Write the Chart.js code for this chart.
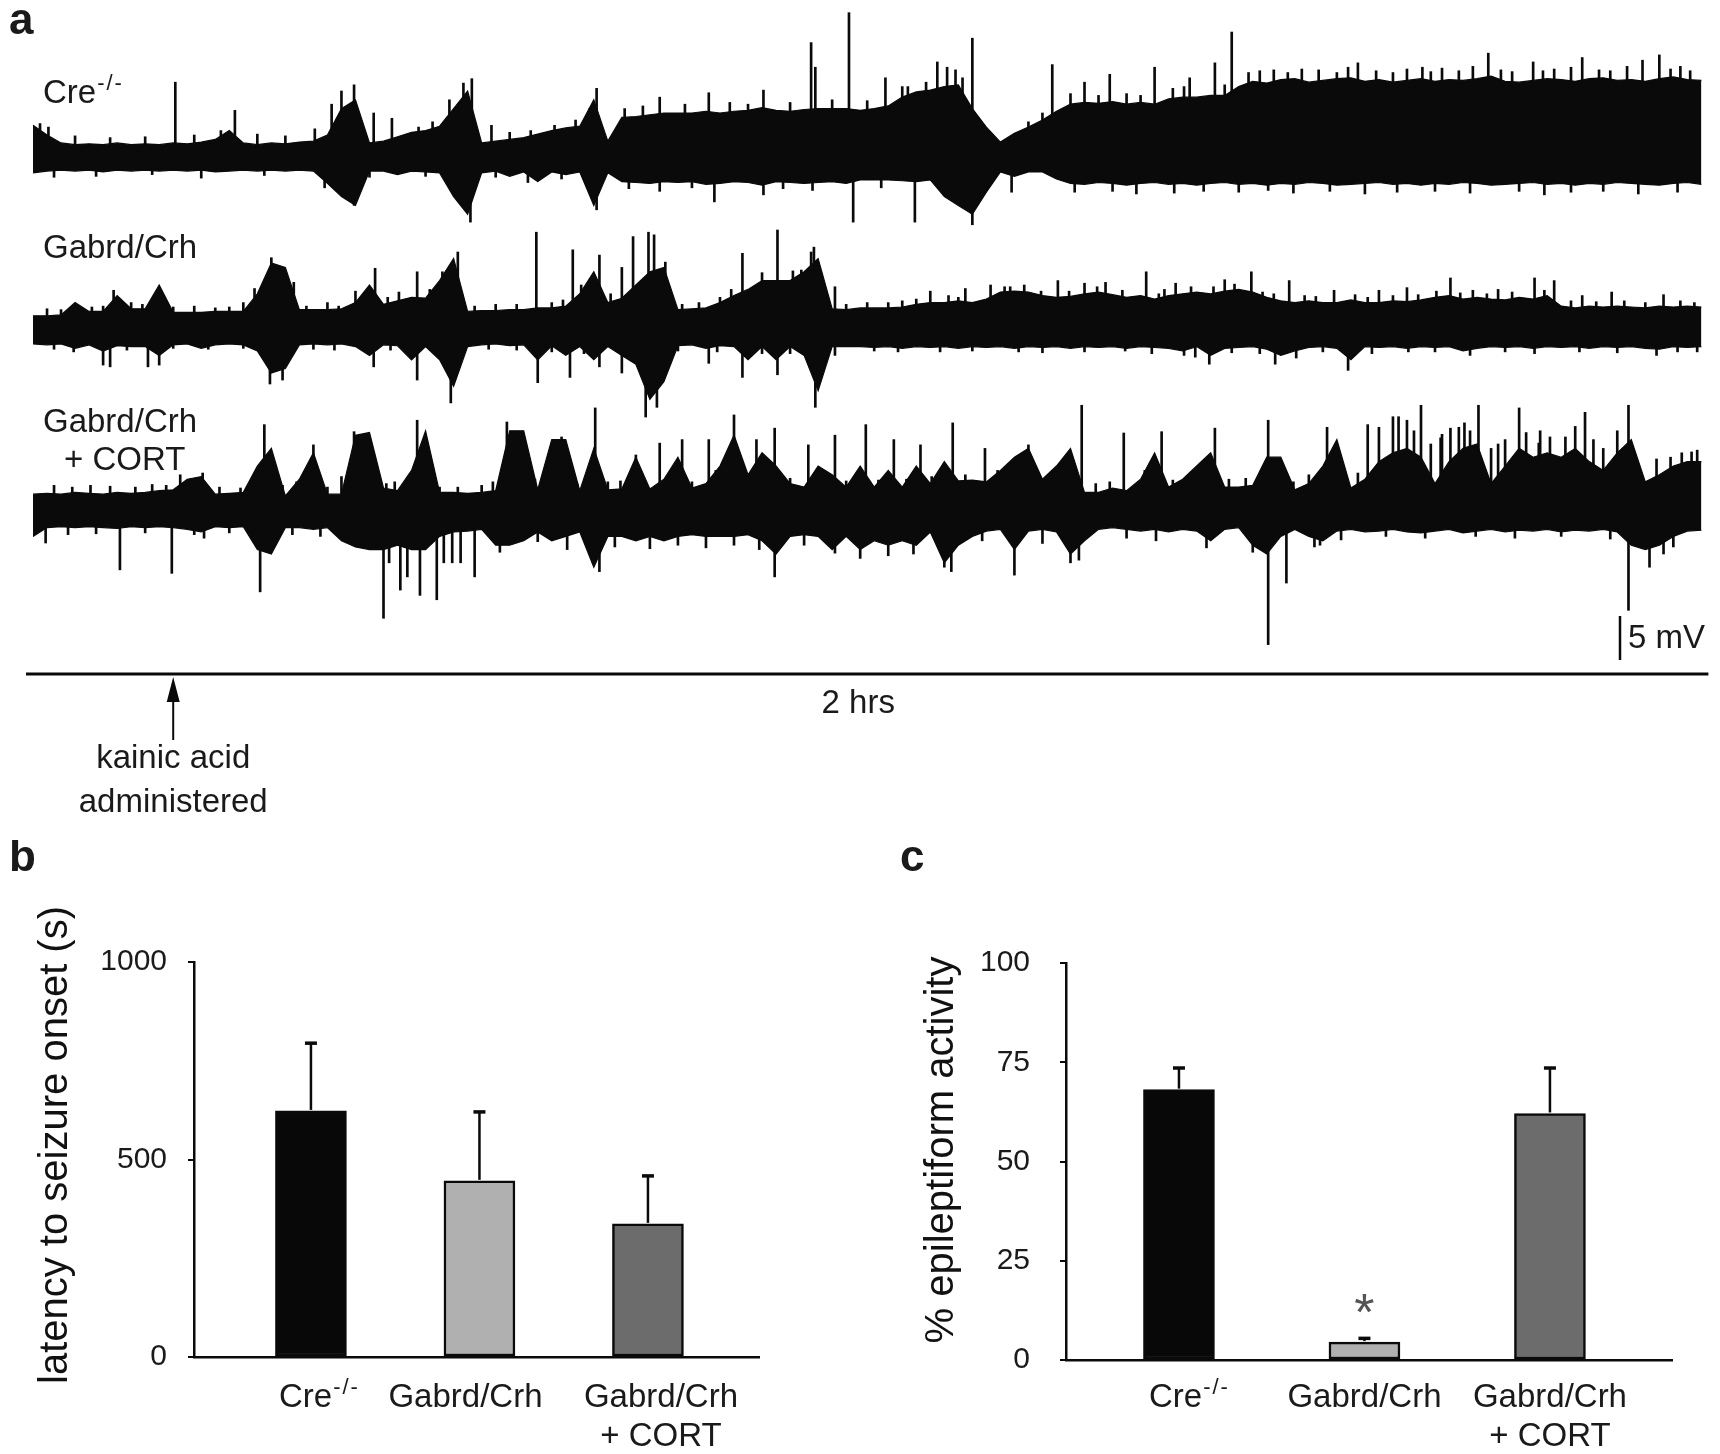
<!DOCTYPE html>
<html>
<head>
<meta charset="utf-8">
<script src="https://cdn.jsdelivr.net/npm/chart.js@4.4.0/dist/chart.umd.min.js"></script>
<style>
html,body{margin:0;padding:0;background:#fff;}
#wrap{position:relative;width:1720px;height:1454px;overflow:hidden;background:#fff;}
canvas{position:absolute;display:block;}
</style>
</head>
<body>
<div id="wrap">
<canvas id="ca" width="1720" height="840" style="left:0;top:0;width:1720px;height:840px"></canvas>
<canvas id="cb" width="860" height="614" style="left:0;top:840px;width:860px;height:614px"></canvas>
<canvas id="cc" width="860" height="614" style="left:860px;top:840px;width:860px;height:614px"></canvas>
</div>
<script>
// ================= DATA =================
// Panel a: EEG traces, envelope (max / min) per 1-minute bin, in mV relative to each trace baseline
const traceLabels = ['Cre', 'Gabrd/Crh', 'Gabrd/Crh'];
const traceLabelSup = ['-/-', '', ''];
const traceLabelLine2 = ['', '', '+ CORT'];
const recordingMinutes = 120;          // length of time bar ("2 hrs")
const kainicAcidMinute = 10.5;         // arrow: kainic acid administered
const scaleBarMV = 5;                  // vertical scale bar
const binMinutes = Array.from({length: 120}, (_, i) => i + 0.5); // sample times (bin centres)

const creUpper = [3.6,2.5,1.6,1.4,1.5,1.4,1.6,1.4,1.5,1.4,
 1.6,1.5,1.7,2.0,3.0,1.6,1.4,1.6,1.5,1.7,
 1.8,2.5,5.5,6.5,1.6,1.8,2.3,2.8,3.0,3.5,
 5.5,7.5,1.6,1.8,2.0,2.2,2.6,3.0,3.3,3.5,
 6.5,1.8,4.5,4.6,4.8,5.0,5.0,5.0,5.2,5.0,
 5.2,5.3,5.6,5.3,5.2,5.4,5.5,5.5,5.5,5.3,
 5.5,5.8,6.8,7.4,7.6,8.0,8.2,5.5,3.4,1.7,
 2.7,3.4,4.2,5.2,6.0,6.2,6.1,6.3,6.0,6.2,
 6.0,6.6,6.8,6.8,7.0,7.0,8.0,8.6,8.4,8.8,
 8.9,8.5,8.7,8.9,9.0,8.6,8.8,8.5,8.7,8.9,
 8.6,8.8,8.7,8.9,9.2,8.6,8.5,8.7,8.9,8.8,
 8.6,8.9,9.0,8.7,8.8,8.6,8.9,9.1,8.8,8.7];
const creLower = [-1.8,-1.6,-1.5,-1.6,-1.5,-1.7,-1.5,-1.6,-1.5,-1.6,
 -1.5,-1.6,-1.5,-1.7,-1.6,-1.5,-1.6,-1.5,-1.6,-1.5,
 -1.6,-3.0,-4.5,-5.5,-1.6,-1.6,-2.0,-1.6,-1.7,-1.8,
 -4.5,-6.5,-1.8,-1.6,-2.2,-1.7,-2.8,-1.7,-2.0,-1.7,
 -5.5,-1.8,-2.8,-2.9,-3.0,-2.8,-2.9,-2.8,-3.1,-3.0,
 -2.8,-2.9,-3.2,-2.8,-2.9,-3.0,-2.9,-2.8,-3.0,-2.6,
 -2.6,-2.6,-2.7,-2.8,-2.6,-4.5,-5.5,-6.5,-4.0,-1.7,
 -2.2,-1.7,-1.7,-2.5,-3.0,-3.1,-2.9,-3.0,-3.2,-3.0,
 -2.9,-3.1,-3.0,-3.2,-3.0,-2.9,-3.1,-3.0,-3.2,-3.0,
 -3.1,-2.9,-3.0,-3.2,-3.1,-3.0,-2.9,-3.1,-3.0,-3.2,
 -3.0,-3.1,-2.9,-3.0,-3.2,-3.1,-3.0,-2.9,-3.1,-3.0,
 -3.2,-3.0,-3.1,-2.9,-3.0,-3.1,-3.2,-3.0,-2.9,-3.1];
const creSpikeMin = [10.65,14.9,23.4,24.8,26.1,31.8,33.2,40.7,45.2,48.7,52.6,56.0,56.3,58.7,61.3,62.5,65.0,65.7,66.3,67.5,73.2,75.5,77.3,80.5,83.0,84.8,86.0,88.0,91.0,95.0,97.5,99.6,101.0,104.3,106.0,107.5,109.0,111.0,113.0,115.3,116.5,118.0];
const creSpikeMV  = [8.5,5.3,8.2,5.0,4.4,8.9,3.6,7.8,6.8,7.3,7.6,13.0,10.2,16.4,9.0,8.0,10.8,10.2,9.9,13.5,10.5,8.5,9.4,10.2,9.0,10.7,14.2,9.8,10.0,10.7,9.6,10.2,10.1,11.8,9.7,10.8,10.0,11.3,9.8,11.0,11.6,10.3];
const creFineMin = [1.0,1.6,3.5,6.0,8.5,12.0,13.9,16.5,18.5,20.6,21.8,22.5,28.0,29.0,30.2,31.2,34.5,36.0,37.7,39.2,40.2,42.7,44.0,47.0,50.2,51.5,54.5,57.5,60.0,62.9,64.2,66.8,71.5,72.5,74.5,76.5,78.5,79.5,81.8,82.6,85.5,87.2,89.0,90.0,92.2,93.5,94.3,96.3,98.5,100.2,102.2,103.2,105.2,108.2,110.2,112.2,114.2,117.3,118.7];
const creFineMV  = [3.8,3.4,2.4,2.2,2.3,2.5,3.0,2.6,2.4,3.2,6.0,7.5,3.4,4.0,6.5,8.4,2.8,3.0,3.6,4.2,5.5,5.5,5.8,6.0,6.2,6.0,6.2,6.5,6.4,8.0,8.5,9.0,4.0,5.0,7.2,7.0,7.2,7.0,7.8,8.0,8.2,9.6,9.9,9.6,9.9,9.6,10.2,9.8,10.0,9.7,9.8,10.3,9.9,9.8,10.2,9.9,10.3,10.0,9.8];
const creDipMin = [23.4,31.7,40.7,49.1,59.0,63.4,67.5,70.3,81.9,90.4,100.5,110.2];
const creDipMV  = [-5.5,-7.4,-6.0,-5.1,-7.4,-7.4,-7.7,-4.0,-4.1,-4.1,-3.9,-4.0];
const creFineDipMin = [2,5,9,12.5,17,21.3,24.5,28.5,33.5,35.8,38.2,43,45.2,47.5,52.6,54.0,56.1,61,74.8,77.5,79.2,84,86.5,88.6,93,95.5,97.8,103,106.5,108.3,112.5,115,117.8];
const creFineDipMV  = [-2.3,-2.2,-2.0,-2.4,-2.1,-3.5,-2.3,-2.2,-2.3,-2.9,-2.5,-3.6,-3.9,-3.5,-4.3,-3.6,-3.8,-3.5,-4.0,-3.9,-4.2,-3.9,-4.0,-3.8,-3.9,-4.2,-4.0,-4.1,-3.9,-4.3,-3.9,-4.2,-4.0];

const gabUpper = [1.5,1.5,1.6,3.0,2.0,2.0,3.8,2.3,2.3,5.0,
 1.9,1.9,1.9,2.0,2.0,2.0,4.0,7.5,7.0,2.2,
 2.2,2.2,2.3,3.0,5.0,2.8,3.2,3.6,3.5,5.5,
 8.0,2.0,2.1,2.1,2.2,2.2,2.4,2.4,2.6,4.0,
 6.5,3.0,3.5,5.0,6.5,7.0,2.2,2.3,2.4,3.0,
 3.8,4.5,5.5,5.5,5.5,6.5,8.0,2.3,2.2,2.4,
 2.4,2.4,2.5,2.8,3.0,3.0,3.2,3.0,3.4,4.2,
 4.3,4.2,3.8,3.6,3.7,4.0,4.2,3.9,3.6,3.8,
 3.4,3.8,4.0,4.2,4.0,4.3,4.5,4.2,3.6,3.2,
 3.0,3.2,3.0,3.0,3.3,3.0,3.0,3.2,3.1,3.3,
 3.6,3.8,3.4,3.6,3.4,3.3,3.6,3.4,3.8,2.6,
 2.4,2.6,2.5,2.6,2.5,2.4,2.6,2.5,2.6,2.5];
const gabLower = [-1.7,-1.8,-1.7,-2.2,-1.8,-2.5,-1.9,-2.0,-2.0,-3.0,
 -1.8,-1.7,-2.2,-1.8,-1.7,-1.8,-2.5,-5.0,-4.5,-1.8,
 -1.7,-1.8,-1.7,-2.0,-3.0,-1.8,-1.9,-3.5,-2.0,-3.5,
 -6.5,-2.0,-1.8,-1.7,-1.9,-1.8,-3.5,-1.9,-3.0,-2.0,
 -3.5,-2.0,-3.0,-4.0,-8.0,-6.0,-1.9,-1.8,-2.2,-1.9,
 -2.0,-3.5,-2.0,-3.5,-2.0,-3.0,-7.0,-2.0,-2.0,-2.0,
 -2.1,-2.0,-2.2,-2.0,-2.1,-2.0,-2.2,-2.0,-2.1,-2.0,
 -2.2,-2.0,-2.1,-2.0,-2.2,-2.0,-2.1,-2.0,-2.2,-2.0,
 -2.1,-2.2,-2.5,-2.0,-3.0,-2.2,-2.1,-2.0,-2.3,-3.0,
 -2.5,-2.1,-2.0,-2.2,-3.5,-2.0,-2.1,-2.0,-2.2,-2.0,
 -2.1,-2.0,-2.5,-2.2,-2.0,-2.1,-2.0,-2.2,-2.0,-2.1,
 -2.0,-2.2,-2.0,-2.1,-2.0,-2.2,-2.3,-2.0,-2.1,-2.0];
const gabSpikeMin = [6.25,17.5,19.1,24.9,27.9,30.8,36.4,39.0,40.9,42.5,43.3,44.4,44.8,51.1,53.6,55.3,56.0,56.2,57.7,64.5,67.0,68.8,70.2,73.6,75.5,77.0,79.9,82.0,85.5,87.4,90.1,93.3,96.5,98.5,101.6,103.2,105.0,107.6,109.0,111.0,113.1,116.8];
const gabSpikeMV  = [4.4,8.1,5.3,6.9,6.5,8.75,11.0,9.0,8.4,7.0,10.5,11.0,10.7,8.6,11.25,6.7,8.75,9.3,4.8,4.3,4.6,5.0,4.8,5.5,5.2,5.3,6.5,5.2,5.6,6.5,5.5,4.4,4.4,4.7,5.8,4.4,4.5,5.8,5.5,3.8,4.2,3.9];
const gabFineMin = [1.5,2.5,4.7,5.5,7.5,8.3,10.5,12,13.5,14.5,15.5,16.3,20,21.5,22.3,23.5,25.8,26.6,28.8,29.7,32,33.5,35,37.5,38.3,39.6,41.7,45.6,46.8,48,49.5,50.3,52.5,54.7,58.5,60.0,61.5,62.5,63.5,65.8,66.5,69.8,71.2,72.4,74.4,76.4,78.2,80.8,81.2,83.1,84.7,86.2,88.2,89.0,91.2,92.0,94.8,95.7,97.5,99.3,100.6,102.3,104.2,106.0,108.3,110.2,112.0,114.0,115.5,118.0,119.0];
const gabFineMV  = [2.3,2.2,2.5,2.6,3.0,2.8,2.5,2.6,2.4,2.5,3.0,4.6,2.6,3.0,2.6,4.3,3.6,4.2,4.5,6.5,2.6,2.8,2.8,3.0,3.3,5.0,4.0,7.6,2.8,3.0,3.6,4.5,6.4,6.6,2.8,3.0,3.0,3.2,3.4,3.8,3.6,4.8,5.0,4.3,4.3,4.8,4.4,4.0,4.5,4.8,4.8,5.1,4.2,4.0,3.8,3.7,3.9,3.6,3.8,3.9,4.3,4.1,4.0,4.2,4.4,3.2,3.1,3.2,3.0,3.2,3.0];
const gabDipMin = [5.5,6.0,8.7,9.5,17.4,18.3,24.8,27.9,30.3,36.5,38.8,40.9,42.5,44.2,45.0,48.7,51.1,53.6,56.3,84.4,89.1,90.6,94.3,103.0,116.3];
const gabDipMV  = [-4.1,-4.3,-4.3,-4.1,-6.25,-5.8,-4.3,-5.8,-8.4,-6.1,-5.5,-4.3,-5.0,-10.0,-8.9,-3.9,-5.5,-5.2,-8.9,-4.0,-4.0,-3.3,-4.7,-3.0,-3.0];
const gabFineDipMin = [2,3.4,7.2,10.5,13,15.5,20.5,22,26,33,35,37.5,39.8,46.5,49.3,52.5,54.5,57.7,60.5,62.2,65.2,67.5,70.8,72.5,75.5,78.4,80.3,82.6,83.4,86,88,92.5,96,98.6,100.5,105.5,107.6,110.8,113.5,117.8,119.2];
const gabFineDipMV  = [-2.3,-2.6,-2.4,-2.2,-2.3,-2.2,-2.3,-2.4,-2.4,-2.3,-2.4,-2.6,-2.8,-2.5,-2.6,-2.8,-2.8,-3.0,-2.5,-2.6,-2.6,-2.5,-2.6,-2.7,-2.6,-2.5,-2.8,-3.0,-3.2,-2.7,-2.8,-2.6,-2.8,-2.6,-2.6,-2.6,-2.8,-2.6,-2.7,-2.6,-2.6];

const cortUpper = [1.8,1.9,1.8,2.0,1.9,1.8,2.0,1.9,2.0,2.2,
 2.3,3.5,3.8,1.8,1.9,2.0,5.0,7.0,1.6,3.5,
 6.5,1.8,1.8,8.5,8.8,2.5,2.2,4.5,9.0,2.0,
 2.0,1.9,2.0,2.2,9.0,9.0,2.3,8.0,8.0,2.2,
 7.0,2.3,2.4,6.0,2.4,3.5,6.0,2.5,3.0,5.0,
 8.5,4.0,6.5,5.0,3.0,2.6,5.0,4.0,2.6,5.0,
 2.6,4.5,2.6,5.0,3.0,5.5,3.3,3.4,3.2,4.5,
 6.0,7.0,3.5,5.0,7.0,2.0,2.0,2.5,2.2,3.5,
 6.5,2.6,3.5,5.0,6.5,2.6,2.6,2.8,6.0,6.0,
 2.3,3.0,5.0,8.0,2.5,3.5,5.5,6.5,7.0,6.0,
 3.0,5.5,7.0,7.5,3.0,5.0,7.0,6.0,6.5,6.0,
 7.0,5.5,4.5,6.5,8.0,3.2,4.0,5.0,5.5,5.5];
const cortLower = [-3.0,-2.0,-1.9,-2.0,-1.9,-2.0,-2.1,-1.9,-2.0,-1.9,
 -2.0,-2.2,-2.5,-1.9,-2.0,-1.9,-4.5,-5.0,-2.0,-2.0,
 -2.2,-2.0,-3.5,-4.2,-4.5,-4.5,-4.0,-4.5,-4.5,-3.0,
 -2.5,-2.4,-2.2,-4.0,-4.0,-3.5,-2.5,-3.5,-3.0,-2.5,
 -6.5,-3.0,-3.0,-3.5,-3.0,-3.5,-3.0,-2.8,-3.0,-3.0,
 -3.0,-2.8,-3.5,-5.0,-3.0,-2.8,-3.0,-4.5,-3.0,-4.5,
 -3.5,-4.0,-3.5,-4.0,-2.5,-6.0,-4.0,-3.0,-2.4,-2.2,
 -4.5,-2.4,-2.2,-2.5,-5.0,-3.5,-2.2,-2.0,-2.2,-2.4,
 -2.2,-2.5,-2.2,-2.4,-3.5,-2.2,-2.0,-4.0,-5.0,-3.0,
 -2.2,-3.0,-3.5,-2.4,-2.2,-2.5,-2.4,-2.2,-2.5,-2.6,
 -2.4,-2.2,-2.6,-2.4,-2.2,-2.5,-2.3,-2.4,-2.2,-2.5,
 -2.3,-2.4,-2.2,-2.5,-4.0,-4.5,-4.0,-3.0,-2.4,-2.3];
const cortSpikeMin = [12.6,17.0,20.5,23.4,27.9,34.3,38.2,40.6,43.5,45.2,46.8,48.7,50.5,52.1,53.4,55.8,57.7,59.9,61.9,63.8,66.1,68.4,71.5,75.3,78.3,81.0,84.8,88.6,92.8,95.7,96.5,97.5,97.9,98.5,99.5,100.9,101.6,102.2,102.6,103.6,105.5,106.5,107.9,108.7,109.8,111.2,114.3,118.1,118.8];
const cortSpikeMV  = [4.2,9.7,7.4,8.9,10.2,10.0,8.3,11.6,6.25,7.6,8.0,8.0,10.8,8.0,9.3,7.4,8.5,9.7,8.0,7.4,9.9,7.0,7.4,11.9,8.75,8.9,9.3,10.2,9.4,9.7,9.4,10.6,10.6,10.2,11.9,8.2,9.3,9.4,9.9,11.9,8.0,11.6,7.6,8.3,8.3,11.1,11.9,6.5,6.6];
const cortFineMin = [2.0,3.3,4.6,6.0,7.8,9.0,10.0,11.0,13.8,15.3,18.3,19.3,21.5,22.5,25.0,25.7,26.3,29.5,30.8,32.5,33.3,36.3,39.3,41.5,42.4,44.0,47.5,49.2,54.5,56.6,58.5,60.8,62.8,64.6,67.0,69.3,72.2,73.2,76.3,77.3,79.8,81.8,85.8,87.0,90.4,91.5,94.0,95.0,99.0,100.2,101.0,103.0,104.5,105.0,107.0,108.0,110.5,111.8,112.5,113.5,115.0,116.3,117.3,119.2];
const cortFineMV  = [2.8,2.6,2.8,2.7,2.6,2.9,2.8,4.0,2.6,2.5,2.8,3.2,2.6,3.8,3.6,3.0,3.2,2.6,2.6,2.8,3.2,3.5,3.0,3.2,3.3,3.5,3.2,4.5,3.6,3.5,3.3,3.4,3.5,3.8,4.0,4.5,4.3,4.5,3.0,3.2,4.5,3.4,3.5,3.6,3.2,4.0,3.4,4.2,9.0,7.5,8.6,9.0,7.0,7.5,8.8,9.0,9.5,8.0,7.0,9.0,5.0,5.8,6.0,6.8];
const cortDipMin = [1.4,6.7,10.4,12.7,16.7,25.5,25.9,26.7,27.2,28.1,29.3,29.8,30.4,31.0,32.0,40.9,53.4,57.7,66.0,70.5,75.1,88.6,89.9,91.9,114.3,115.8];
const cortDipMV  = [-3.75,-6.8,-7.2,-3.2,-9.3,-12.3,-6.0,-9.1,-7.6,-9.7,-10.2,-6.0,-6.0,-6.0,-7.6,-7.0,-7.6,-4.9,-7.0,-7.4,-5.7,-15.3,-8.3,-4.2,-11.4,-6.5];
const cortFineDipMin = [3,5,8.5,12,14.5,19,21,33.8,36.5,38.6,42,44.5,46.5,48.5,50.5,52.3,55.5,59.5,61.5,63.3,65.5,68.2,72.5,74.5,78.5,80.6,84.2,87.5,92.3,93.8,97,99.8,103.4,106.2,109.5,113,116.8,117.5];
const cortFineDipMV  = [-2.8,-2.7,-2.6,-2.8,-2.6,-2.8,-3.0,-4.8,-3.6,-4.5,-4.2,-4.4,-4.0,-4.3,-4.0,-4.5,-4.0,-5.5,-5.2,-5.0,-6.5,-3.5,-3.8,-6.0,-3.2,-3.5,-4.3,-4.8,-4.0,-3.4,-3.0,-3.2,-3.0,-3.2,-3.0,-3.3,-5.0,-4.2];

// Panels b and c: group means with SEM
const groupNames = ['Cre', 'Gabrd/Crh', 'Gabrd/Crh'];
const groupSup = ['-/-', '', ''];
const groupLine2 = ['', '', '+ CORT'];
const latencyMean = [623, 446, 337];
const latencyErr = [174, 177, 124];
const latencyTicks = [0, 500, 1000];
const epiMean = [68.1, 4.5, 62.1];
const epiErr = [5.7, 1.2, 11.7];
const epiTicks = [0, 25, 50, 75, 100];
const epiSignificance = ['', '*', ''];

// ================= STYLE / LAYOUT =================
const FONT = '"Liberation Sans", Arial, sans-serif';
const INK = '#0a0a0a';
const barColors = ['#080808', '#b0b0b0', '#6c6c6c'];
const PX_PER_MV = 8.8;          // 5 mV = 44 px
const T0_PX = 26, PX_PER_MIN = 14.02;
const traceCenterPx = [157, 329, 510];

Chart.defaults.font.family = FONT;

// ================= PANEL A =================
const traces = [
  {up: creUpper, lo: creLower, sT: creSpikeMin.concat(creFineMin), sV: creSpikeMV.concat(creFineMV),
   dT: creDipMin.concat(creFineDipMin), dV: creDipMV.concat(creFineDipMV)},
  {up: gabUpper, lo: gabLower, sT: gabSpikeMin.concat(gabFineMin), sV: gabSpikeMV.concat(gabFineMV),
   dT: gabDipMin.concat(gabFineDipMin), dV: gabDipMV.concat(gabFineDipMV)},
  {up: cortUpper, lo: cortLower, sT: cortSpikeMin.concat(cortFineMin), sV: cortSpikeMV.concat(cortFineMV),
   dT: cortDipMin.concat(cortFineDipMin), dV: cortDipMV.concat(cortFineDipMV)}
];
const dsA = [];
const spikeSets = [];
traces.forEach((tr, k) => {
  const off = -traceCenterPx[k] / PX_PER_MV;
  dsA.push({type: 'line', data: binMinutes.map((t, i) => ({x: t, y: off + tr.up[i]})),
    borderColor: INK, borderWidth: 1.2, pointRadius: 0, tension: 0, fill: false});
  dsA.push({type: 'line', data: binMinutes.map((t, i) => ({x: t, y: off + tr.lo[i]})),
    borderColor: INK, borderWidth: 1.2, pointRadius: 0, tension: 0, fill: '-1', backgroundColor: INK});
  spikeSets.push({type: 'bar', data: tr.sT.map((t, j) => ({x: t, y: [off, off + tr.sV[j]]})),
    backgroundColor: INK, borderWidth: 0, barThickness: 2, grouped: false});
  spikeSets.push({type: 'bar', data: tr.dT.map((t, j) => ({x: t, y: [off + tr.dV[j], off]})),
    backgroundColor: INK, borderWidth: 0, barThickness: 2, grouped: false});
});

function drawSupLabel(ctx, base, sup, x, y, size, align) {
  ctx.font = size + 'px ' + FONT;
  const w = ctx.measureText(base).width;
  const supSize = Math.round(size * 0.68);
  ctx.font = supSize + 'px ' + FONT;
  const ws = sup ? ctx.measureText(sup).width + 2 * sup.length : 0;
  const total = w + ws;
  let x0 = align === 'center' ? x - total / 2 : x;
  ctx.textAlign = 'left';
  ctx.font = size + 'px ' + FONT;
  ctx.fillText(base, x0, y);
  if (sup) {
    ctx.font = supSize + 'px ' + FONT;
    if ('letterSpacing' in ctx) ctx.letterSpacing = '2px';
    ctx.fillText(sup, x0 + w + 1, y - size * 0.4);
    if ('letterSpacing' in ctx) ctx.letterSpacing = '0px';
  }
}

const annotA = {
  id: 'annotA',
  afterDraw(chart) {
    const {ctx, scales: {x, y}} = chart;
    ctx.save();
    ctx.fillStyle = '#1a1a1a';
    ctx.textBaseline = 'alphabetic';
    ctx.font = 'bold 44px ' + FONT;
    ctx.textAlign = 'left';
    ctx.fillText('a', 9, 34);
    const labelBase = [103, 258, 432];
    traceLabels.forEach((lab, k) => {
      drawSupLabel(ctx, lab, traceLabelSup[k], 43, labelBase[k], 33, 'left');
      if (traceLabelLine2[k]) {
        ctx.font = '33px ' + FONT;
        ctx.fillText(traceLabelLine2[k], 64, labelBase[k] + 38);
      }
    });
    // scale bar (5 mV)
    const barBottom = 660;
    const vBottom = y.getValueForPixel(barBottom);
    const barTop = y.getPixelForValue(vBottom + scaleBarMV);
    ctx.strokeStyle = INK;
    ctx.lineWidth = 2.5;
    ctx.beginPath(); ctx.moveTo(1620, barBottom); ctx.lineTo(1620, barTop); ctx.stroke();
    ctx.font = '33px ' + FONT;
    ctx.fillText(scaleBarMV + ' mV', 1628, 648);
    // time bar (2 hrs)
    const tx0 = x.getPixelForValue(0), tx1 = x.getPixelForValue(recordingMinutes);
    ctx.lineWidth = 3;
    ctx.beginPath(); ctx.moveTo(tx0, 674); ctx.lineTo(tx1, 674); ctx.stroke();
    ctx.textAlign = 'center';
    ctx.fillText((recordingMinutes / 60) + ' hrs', (tx0 + tx1) / 2 - 9, 713);
    // kainic acid arrow
    const ax = x.getPixelForValue(kainicAcidMinute);
    ctx.lineWidth = 2;
    ctx.beginPath(); ctx.moveTo(ax, 698); ctx.lineTo(ax, 740); ctx.stroke();
    ctx.fillStyle = INK;
    ctx.beginPath(); ctx.moveTo(ax, 677); ctx.lineTo(ax - 6.5, 702); ctx.lineTo(ax + 6.5, 702); ctx.closePath(); ctx.fill();
    ctx.fillStyle = '#1a1a1a';
    ctx.font = '33px ' + FONT;
    ctx.fillText('kainic acid', ax, 768);
    ctx.fillText('administered', ax, 812);
    ctx.restore();
  }
};

new Chart(document.getElementById('ca'), {
  type: 'line',
  data: {datasets: dsA.concat(spikeSets)},
  options: {
    responsive: false, animation: false, events: [],
    layout: {padding: 0},
    plugins: {legend: {display: false}, tooltip: {enabled: false}},
    scales: {
      x: {type: 'linear', display: false, min: -T0_PX / PX_PER_MIN, max: (1720 - T0_PX) / PX_PER_MIN, offset: false},
      y: {type: 'linear', display: false, min: -840 / PX_PER_MV, max: 0}
    }
  },
  plugins: [annotA]
});

// ================= PANELS B & C =================
function makeBarPanel(id, cfg) {
  const overlay = {
    id: 'overlay_' + id,
    afterDatasetsDraw(chart) {
      const {ctx, scales: {x, y}} = chart;
      ctx.save();
      ctx.strokeStyle = INK;
      cfg.mean.forEach((m, i) => {
        const cx = x.getPixelForValue(i + 1);
        const y0 = y.getPixelForValue(m), y1 = y.getPixelForValue(m + cfg.err[i]);
        ctx.lineWidth = 2.5;
        ctx.beginPath(); ctx.moveTo(cx, y0 - 1); ctx.lineTo(cx, y1); ctx.stroke();
        ctx.lineWidth = 3.5;
        ctx.beginPath(); ctx.moveTo(cx - 6, y1 + 1); ctx.lineTo(cx + 6, y1 + 1); ctx.stroke();
        if (cfg.sig && cfg.sig[i]) {
          ctx.fillStyle = '#555';
          ctx.font = '52px ' + FONT;
          ctx.textAlign = 'center';
          ctx.fillText(cfg.sig[i], cx, y1 - 37 + 30);
        }
      });
      ctx.fillStyle = '#1a1a1a';
      ctx.textBaseline = 'alphabetic';
      groupNames.forEach((g, i) => {
        const cx = x.getPixelForValue(i + 1) + cfg.labelNudge[i];
        drawSupLabel(ctx, g, groupSup[i], cx, 567, 33, 'center');
        if (groupLine2[i]) {
          ctx.font = '33px ' + FONT;
          ctx.textAlign = 'center';
          ctx.fillText(groupLine2[i], cx, 606);
        }
      });
      ctx.save();
      ctx.translate(cfg.titleX, cfg.titleY);
      ctx.rotate(-Math.PI / 2);
      ctx.font = '40px ' + FONT;
      ctx.textAlign = 'center';
      ctx.textBaseline = 'middle';
      ctx.fillStyle = '#111';
      ctx.fillText(cfg.title, 0, 0);
      ctx.restore();
      ctx.font = 'bold 44px ' + FONT;
      ctx.textAlign = 'left';
      ctx.fillText(cfg.letter, cfg.letterX, 31);
      ctx.restore();
    }
  };
  new Chart(document.getElementById(id), {
    type: 'bar',
    data: {datasets: [{
      data: cfg.mean.map((v, i) => ({x: i + 1, y: v})),
      backgroundColor: barColors, borderColor: INK, borderWidth: 2.5,
      barThickness: 71, borderSkipped: false
    }]},
    options: {
      responsive: false, animation: false, events: [],
      layout: {padding: {left: 0, top: cfg.top, right: cfg.right, bottom: 0}},
      plugins: {legend: {display: false}, tooltip: {enabled: false}},
      scales: {
        x: {type: 'linear', min: cfg.xmin, max: cfg.xmax, offset: false,
            grid: {display: false}, ticks: {display: false},
            border: {display: true, color: INK, width: 2.5},
            afterFit(s) { s.height = cfg.xh; }},
        y: {type: 'linear', min: 0, max: cfg.ticks[cfg.ticks.length - 1],
            afterBuildTicks(s) { s.ticks = cfg.ticks.map(v => ({value: v})); },
            ticks: {font: {family: FONT, size: 30}, color: '#1a1a1a', padding: cfg.tickPad,
                    callback: v => String(v)},
            grid: {display: true, drawOnChartArea: false, drawTicks: true, tickLength: 6, color: INK, lineWidth: 2},
            border: {display: true, color: INK, width: 2.5},
            afterFit(s) { s.width = cfg.yw; }}
      }
    },
    plugins: [overlay]
  });
}

makeBarPanel('cb', {
  mean: latencyMean, err: latencyErr, ticks: latencyTicks, sig: null, labelNudge: [8, -14, 13],
  top: 122, right: 101, xh: 97, yw: 194, xmin: 0.306, xmax: 3.659, tickPad: 21,
  title: 'latency to seizure onset (s)', titleX: 56, titleY: 305, letter: 'b', letterX: 9
});
makeBarPanel('cc', {
  mean: epiMean, err: epiErr, ticks: epiTicks, sig: epiSignificance, labelNudge: [10, 0, 0],
  top: 123, right: 48, xh: 94, yw: 206, xmin: 0.391, xmax: 3.658, tickPad: 30,
  title: '% epileptiform activity', titleX: 82, titleY: 310, letter: 'c', letterX: 40
});
</script>
</body>
</html>
